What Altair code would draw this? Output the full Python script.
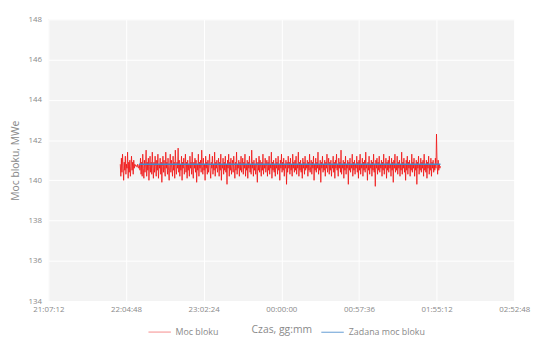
import altair as alt
import pandas as pd

# --- data -------------------------------------------------------------
red_start = "2020-01-01T22:00:32"
red_step_s = 25
red_values = [
    140.8, 140.2, 141.1, 140.4, 141.3, 140.6, 140.0, 140.9, 140.5, 141.2, 140.3, 140.8, 140.6, 141.4, 140.1, 140.9, 140.4, 141.0, 140.2, 140.7,
    141.2, 140.5, 140.9, 140.3, 141.0, 140.6, 140.8, 140.7, 140.75, 140.7, 140.65, 140.8, 140.7, 140.6, 140.75, 140.5, 141.1, 140.3, 140.9, 140.2,
    141.3, 140.6, 140.1, 141.0, 140.4, 140.8, 141.5, 140.2, 140.9, 140.5, 141.1, 140.0, 140.7, 141.2, 140.4, 140.9, 140.3, 141.4, 140.6, 140.1,
    140.9, 140.4, 141.2, 140.7, 140.2, 141.0, 140.5, 141.3, 140.1, 140.8, 140.6, 141.1, 140.3, 140.9, 139.9, 140.7, 141.2, 140.4, 141.0, 140.5,
    140.2, 141.4, 140.6, 140.9, 140.3, 141.1, 140.5, 140.0, 140.8, 141.3, 140.4, 141.0, 140.6, 140.2, 141.2, 140.5, 140.9, 140.1, 141.5, 140.7,
    140.3, 140.9, 140.6, 141.6, 140.4, 141.0, 140.2, 140.8, 140.5, 141.2, 140.0, 140.9, 140.6, 141.1, 140.3, 140.7, 141.3, 140.4, 140.9, 140.1,
    141.0, 140.5, 140.8, 140.2, 141.2, 140.6, 140.9, 140.3, 141.4, 140.5, 140.1, 140.9, 140.6, 141.1, 140.4, 141.0, 139.9, 140.8, 140.5, 141.3,
    140.2, 140.9, 140.6, 141.0, 140.4, 141.5, 140.7, 140.3, 141.1, 140.5, 140.8, 140.0, 141.2, 140.6, 140.9, 140.3, 141.0, 140.4, 140.8, 141.3,
    140.5, 140.1, 140.9, 140.6, 141.2, 140.3, 140.8, 140.5, 141.4, 140.2, 140.9, 140.6, 141.0, 140.4, 140.7, 141.1, 140.2, 140.9, 140.5, 141.3,
    140.0, 140.8, 140.6, 141.1, 140.3, 140.9, 140.5, 141.2, 140.4, 140.8, 139.8, 141.0, 140.6, 141.3, 140.2, 140.9, 140.5, 141.1, 140.3, 140.7,
    141.0, 140.4, 141.2, 140.6, 140.1, 140.9, 140.5, 141.4, 140.3, 140.8, 140.6, 141.0, 140.2, 140.9, 140.5, 141.2, 140.4, 140.7, 141.1, 140.3,
    140.9, 140.6, 141.3, 140.2, 140.8, 140.5, 141.0, 140.1, 140.9, 140.6, 141.2, 140.4, 140.8, 140.3, 141.5, 140.6, 140.9, 140.2, 141.0, 140.5,
    140.8, 140.3, 141.1, 140.6, 139.9, 140.9, 140.5, 141.2, 140.4, 141.0, 140.6, 140.2, 140.9, 140.5, 141.3, 140.3, 140.8, 140.6, 141.1, 140.4,
    140.7, 141.0, 140.2, 140.9, 140.5, 141.2, 140.3, 140.8, 140.6, 141.4, 140.1, 140.9, 140.5, 141.0, 140.4, 140.8, 140.2, 141.1, 140.6, 140.9,
    140.3, 141.2, 140.5, 140.8, 140.0, 141.0, 140.6, 141.3, 140.4, 140.9, 140.5, 141.1, 140.2, 140.8, 140.6, 141.0, 139.8, 140.9, 140.4, 141.2,
    140.6, 140.9, 140.3, 141.1, 140.5, 140.8, 140.2, 141.3, 140.6, 140.9, 140.4, 141.0, 140.5, 141.2, 140.3, 140.8, 140.6, 141.4, 140.2, 140.9,
    140.5, 141.0, 140.4, 140.8, 140.1, 141.1, 140.6, 140.9, 140.3, 141.2, 140.5, 140.8, 140.6, 141.0, 140.2, 140.9, 140.5, 141.3, 140.4, 140.7,
    141.0, 140.3, 140.9, 140.6, 141.2, 140.0, 140.8, 140.5, 141.1, 140.4, 140.9, 140.6, 141.4, 140.3, 140.8, 140.5, 141.0, 139.9, 140.9, 140.6,
    141.2, 140.4, 140.8, 140.5, 141.0, 140.2, 140.9, 140.6, 141.3, 140.4, 140.7, 141.1, 140.3, 140.9, 140.5, 141.0, 140.2, 140.8, 140.6, 141.2,
    140.4, 140.9, 140.1, 141.0, 140.6, 141.3, 140.5, 140.8, 140.2, 141.1, 140.6, 140.9, 140.4, 141.5, 140.3, 140.8, 140.6, 141.0, 140.1, 140.9,
    140.5, 141.2, 140.3, 140.8, 140.6, 141.0, 139.8, 140.9, 140.5, 141.1, 140.4, 140.8, 140.6, 141.3, 140.2, 140.9, 140.5, 141.0, 140.3, 140.8,
    140.6, 141.2, 140.4, 140.9, 140.1, 141.0, 140.5, 141.3, 140.3, 140.8, 140.6, 141.1, 140.2, 140.9, 140.5, 141.0, 140.4, 141.4, 140.6, 140.8,
    140.0, 140.9, 140.5, 141.2, 140.3, 140.8, 140.6, 141.0, 140.2, 140.9, 140.5, 141.3, 140.4, 140.8, 139.7, 141.0, 140.6, 141.1, 140.3, 140.9,
    140.5, 141.2, 140.4, 140.8, 140.6, 141.0, 140.2, 140.9, 140.5, 141.3, 140.3, 140.8, 140.6, 141.1, 140.1, 140.9, 140.5, 141.0, 140.4, 141.2,
    140.6, 140.8, 140.2, 141.1, 140.5, 140.9, 139.9, 141.0, 140.6, 141.3, 140.4, 140.8, 140.5, 141.2, 140.3, 140.9, 140.6, 141.0, 140.2, 140.8,
    140.5, 141.4, 140.3, 140.9, 140.6, 141.1, 140.4, 140.8, 140.0, 141.0, 140.5, 141.2, 140.3, 140.9, 140.6, 141.0, 140.2, 140.8, 140.5, 141.3,
    140.4, 140.9, 140.6, 141.1, 140.2, 140.8, 140.5, 141.0, 139.8, 140.9, 140.6, 141.2, 140.3, 140.8, 140.5, 141.1, 140.4, 140.9, 140.6, 141.0,
    140.2, 141.3, 140.5, 140.8, 140.4, 141.0, 140.1, 140.9, 140.6, 141.2, 140.3, 140.8, 140.5, 141.1, 140.2, 140.9, 140.6, 141.0, 140.4, 140.8,
    140.5, 141.1, 140.6, 142.3, 140.9, 140.3, 141.0, 140.5, 140.8, 140.6, 140.7,
]
blue_times = ["2020-01-01T22:14:25", "2020-01-02T01:58:02"]
blue_values = [140.8, 140.8]

series_names = ["Moc bloku", "Zadana moc bloku"]
series_colors = ["#f01010", "#4589cc"]
series_widths = [0.8, 1.4]
x_tick_times = [
    (2020, 1, 1, 21, 7, 12), (2020, 1, 1, 22, 4, 48), (2020, 1, 1, 23, 2, 24),
    (2020, 1, 2, 0, 0, 0), (2020, 1, 2, 0, 57, 36), (2020, 1, 2, 1, 55, 12),
    (2020, 1, 2, 2, 52, 48),
]
y_ticks = [134, 136, 138, 140, 142, 144, 146, 148]

# --- tables -----------------------------------------------------------
red_times = pd.date_range(red_start, periods=len(red_values), freq=f"{red_step_s}s")
red_df = pd.DataFrame({
    "t": red_times.strftime("%Y-%m-%dT%H:%M:%S"),
    "v": red_values,
    "s": series_names[0],
})
blue_df = pd.DataFrame({"t": blue_times, "v": blue_values, "s": series_names[1]})
df = pd.concat([red_df, blue_df], ignore_index=True)

def dt(y, mo, d, h, mi, s):
    return alt.DateTime(year=y, month=mo, date=d, hours=h, minutes=mi, seconds=s)

ticks = [dt(*t) for t in x_tick_times]

grey = "#8a8a8a"
axis_common = dict(
    grid=True, gridColor="#ffffff", gridWidth=1, domain=False, ticks=False,
    labelColor=grey, labelFont="Open Sans", labelFontSize=8,
    titleColor=grey, titleFont="Open Sans", titleFontWeight="normal",
)

chart = alt.Chart(df).mark_line().encode(
    x=alt.X("t:T",
            scale=alt.Scale(domain=[ticks[0], ticks[-1]]),
            axis=alt.Axis(values=ticks, format="%H:%M:%S", title="Czas, gg:mm",
                          titleFontSize=10.5,
                          labelPadding=5, titleY=24, labelFlush=False, **axis_common)),
    y=alt.Y("v:Q",
            scale=alt.Scale(domain=[134, 148], nice=False, zero=False),
            axis=alt.Axis(values=y_ticks, title="Moc bloku, MWe", labelPadding=7,
                          titleFontSize=10.5, titlePadding=8, **axis_common)),
    color=alt.Color("s:N",
                    scale=alt.Scale(domain=series_names, range=series_colors),
                    legend=alt.Legend(orient="none", legendX=101, legendY=305,
                                      direction="horizontal", title=None,
                                      symbolType="stroke", symbolStrokeWidth=2.5,
                                      symbolSize=520, symbolOpacity=0.6,
                                      columnPadding=101,
                                      labelColor=grey, labelFont="Open Sans",
                                      labelFontSize=9)),
    strokeWidth=alt.StrokeWidth("s:N",
                                scale=alt.Scale(domain=series_names, range=series_widths),
                                legend=None),
).properties(
    width=473, height=286,
    autosize=alt.AutoSizeParams(type="none"),
    padding={"left": 41, "top": 9, "right": 18, "bottom": 35},
    background="#ffffff",
).configure_view(
    fill="#f3f3f3", stroke=None,
)

chart.save("out.html", embed_options={"renderer": "svg", "actions": False})
